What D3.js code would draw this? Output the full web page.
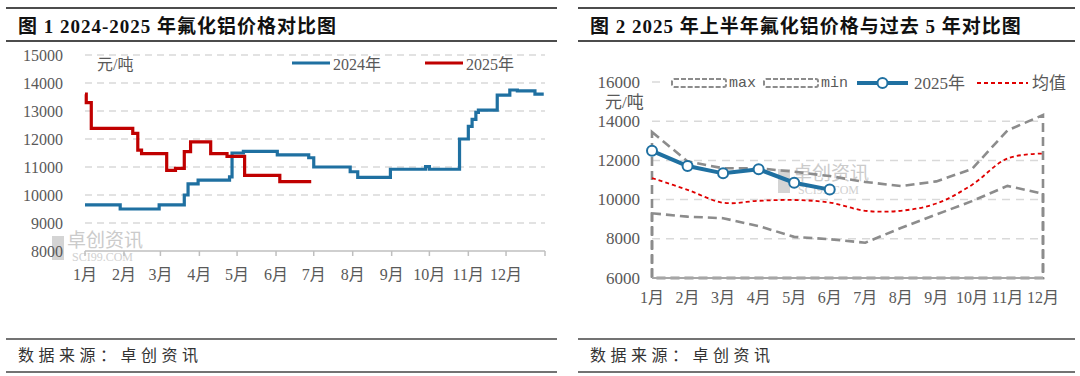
<!DOCTYPE html>
<html>
<head>
<meta charset="utf-8">
<script src="https://cdn.jsdelivr.net/npm/d3@7"></script>
<style>
  body { margin: 0; background: #fff; }
  svg text { font-family: "Liberation Serif", "Noto Sans CJK SC", serif; }
</style>
</head>
<body>
<div id="canvas"></div>
<script>
"use strict";

/* Drawing size */
let svgWidth = 1080;
let svgHeight = 376;

/* ---- Data: figure 1 (daily prices, step changes, month-day) ---- */
let months = ["1月", "2月", "3月", "4月", "5月", "6月", "7月", "8月", "9月", "10月", "11月", "12月"];
let leftTicks = [8000, 9000, 10000, 11000, 12000, 13000, 14000, 15000];

let price2024 = [
  ["01-01", 9650], ["01-29", 9500], ["02-29", 9650], ["03-20", 10000],
  ["03-23", 10400], ["03-31", 10530], ["04-25", 10650], ["04-27", 11500],
  ["05-06", 11560], ["06-02", 11430], ["06-27", 11330], ["07-01", 11000],
  ["07-30", 10830], ["08-05", 10630], ["08-31", 10920], ["09-28", 11010],
  ["10-01", 10920], ["10-25", 12000], ["11-01", 12450], ["11-04", 12700],
  ["11-07", 12950], ["11-09", 13030], ["11-24", 13570], ["12-04", 13750],
  ["12-10", 13720], ["12-24", 13600], ["12-31", 13600]
];

let price2025 = [
  ["01-01", 13600], ["01-02", 13300], ["01-06", 12380], ["02-08", 12200],
  ["02-12", 11600], ["02-15", 11480], ["03-06", 10880], ["03-13", 10950],
  ["03-20", 11550], ["03-25", 11900], ["04-10", 11480], ["04-23", 11380],
  ["05-07", 10700], ["06-04", 10480], ["06-29", 10480]
];

/* ---- Data: figure 2 (monthly) ---- */
let rightTicks = [6000, 8000, 10000, 12000, 14000, 16000];
let max5y = [13450, 11950, 11600, 11600, 11420, 11200, 10900, 10690, 10930, 11560, 13530, 14316];
let min5y = [9300, 9130, 9050, 8650, 8100, 7980, 7800, 8550, 9240, 9920, 10700, 10300];
let avg5y = [11100, 10500, 9840, 9940, 9980, 9850, 9430, 9430, 9800, 10750, 12100, 12350];
let h1of2025 = [12490, 11710, 11340, 11550, 10860, 10510];

/* Colours */
let blue = "#1f70a1";
let red = "#c00000";
let gridGrey = "#d9d9d9";
let textGrey = "#595959";

let svg = d3.select("#canvas")
  .append("svg")
  .attr("width", svgWidth)
  .attr("height", svgHeight);

/* ---- Frame rules, titles, sources ---- */
let panels = [
  { x1: 6, x2: 557, tx: 18, title: "图 1 2024-2025 年氟化铝价格对比图" },
  { x1: 578, x2: 1075, tx: 590, title: "图 2 2025 年上半年氟化铝价格与过去 5 年对比图" }
];

panels.forEach(p => {
  [8, 41].forEach(y => {
    svg.append("line")
      .attr("x1", p.x1).attr("x2", p.x2)
      .attr("y1", y).attr("y2", y)
      .attr("stroke", "#111").attr("stroke-width", 1.5);
  });
  [339, 372].forEach(y => {
    svg.append("line")
      .attr("x1", p.x1).attr("x2", p.x2)
      .attr("y1", y).attr("y2", y)
      .attr("stroke", "#444").attr("stroke-width", 1.5);
  });
  svg.append("text")
    .attr("x", p.tx).attr("y", 33)
    .attr("font-size", "19px")
    .attr("letter-spacing", "1px")
    .attr("font-weight", "bold")
    .attr("fill", "#111")
    .text(p.title);
  svg.append("text")
    .attr("x", p.tx).attr("y", 361)
    .attr("font-size", "16px")
    .attr("letter-spacing", "4.5px")
    .attr("fill", "#333")
    .style("font-family", "'Noto Sans CJK SC'")
    .text("数据来源：卓创资讯");
});

/* Watermark helper */
function watermark(x, y) {
  svg.append("rect")
    .attr("x", x).attr("y", y)
    .attr("width", 12).attr("height", 24)
    .attr("fill", "#d4d4d4");
  svg.append("text")
    .attr("x", x + 15).attr("y", y + 11)
    .attr("font-size", "19px")
    .attr("fill", "#cbcbcb")
    .style("font-family", "'Noto Sans CJK SC'")
    .text("卓创资讯");
  svg.append("text")
    .attr("x", x + 20).attr("y", y + 25)
    .attr("font-size", "12px")
    .attr("fill", "#d0d0d0")
    .text("SCI99.COM");
}

/* ================= Figure 1 ================= */
let parseDay = d3.timeParse("%Y-%m-%d");
function toDate(md) { return parseDay("2024-" + md); }

let xLeft = d3.scaleTime()
  .domain([parseDay("2024-01-01"), parseDay("2025-01-01")])
  .range([85, 545]);

let yLeft = d3.scaleLinear()
  .domain([8000, 15000])
  .range([251, 55]);

/* gridlines */
leftTicks.filter(v => v > 8000).forEach(v => {
  svg.append("line")
    .attr("x1", 85).attr("x2", 545)
    .attr("y1", yLeft(v)).attr("y2", yLeft(v))
    .attr("stroke", gridGrey)
    .attr("stroke-width", 1.5)
    .attr("stroke-dasharray", "7,5");
});

watermark(52, 236);

/* y labels */
leftTicks.forEach(v => {
  svg.append("text")
    .attr("x", 63).attr("y", yLeft(v))
    .attr("text-anchor", "end")
    .attr("dominant-baseline", "central")
    .attr("font-size", "16px")
    .attr("fill", textGrey)
    .text(String(v));
});

/* x axis */
svg.append("line")
  .attr("x1", 85).attr("x2", 545)
  .attr("y1", 251).attr("y2", 251)
  .attr("stroke", "#bfbfbf").attr("stroke-width", 1.5);

let monthStarts = d3.timeMonth.range(parseDay("2024-01-01"), parseDay("2025-01-02"));
monthStarts.forEach(d => {
  svg.append("line")
    .attr("x1", xLeft(d)).attr("x2", xLeft(d))
    .attr("y1", 251).attr("y2", 256)
    .attr("stroke", "#bfbfbf").attr("stroke-width", 1.5);
});
months.forEach((m, i) => {
  svg.append("text")
    .attr("x", xLeft(monthStarts[i])).attr("y", 280)
    .attr("text-anchor", "middle")
    .attr("font-size", "16px")
    .attr("fill", textGrey)
    .text(m);
});

/* series */
let stepLine = d3.line()
  .x(d => xLeft(toDate(d[0])))
  .y(d => yLeft(d[1]))
  .curve(d3.curveStepAfter);

svg.append("path")
  .attr("d", stepLine(price2024))
  .attr("fill", "none")
  .attr("stroke", blue)
  .attr("stroke-width", 3.2);

svg.append("path")
  .attr("d", stepLine(price2025))
  .attr("fill", "none")
  .attr("stroke", red)
  .attr("stroke-width", 3.2);

/* unit + legend */
svg.append("text")
  .attr("x", 97).attr("y", 64)
  .attr("dominant-baseline", "central")
  .attr("font-size", "16px")
  .attr("fill", textGrey)
  .text("元/吨");

let leftLegend = [
  { x: 292, color: blue, label: "2024年" },
  { x: 425, color: red, label: "2025年" }
];
leftLegend.forEach(item => {
  svg.append("line")
    .attr("x1", item.x).attr("x2", item.x + 38)
    .attr("y1", 63).attr("y2", 63)
    .attr("stroke", item.color).attr("stroke-width", 3.2);
  svg.append("text")
    .attr("x", item.x + 41).attr("y", 64)
    .attr("dominant-baseline", "central")
    .attr("font-size", "16px")
    .attr("fill", textGrey)
    .text(item.label);
});

/* ================= Figure 2 ================= */
let xRight = d3.scalePoint()
  .domain(months)
  .range([652, 1043]);

let yRight = d3.scaleLinear()
  .domain([6000, 16000])
  .range([278, 82]);

rightTicks.filter(v => v > 6000).forEach(v => {
  svg.append("line")
    .attr("x1", 652).attr("x2", 1043)
    .attr("y1", yRight(v)).attr("y2", yRight(v))
    .attr("stroke", gridGrey)
    .attr("stroke-width", 1.5)
    .attr("stroke-dasharray", "8,6");
});

watermark(778, 169);

rightTicks.forEach(v => {
  svg.append("text")
    .attr("x", 640).attr("y", yRight(v))
    .attr("text-anchor", "end")
    .attr("dominant-baseline", "central")
    .attr("font-size", "17px")
    .attr("fill", textGrey)
    .text(String(v));
});

months.forEach(m => {
  svg.append("text")
    .attr("x", xRight(m)).attr("y", 303)
    .attr("text-anchor", "middle")
    .attr("font-size", "16px")
    .attr("fill", textGrey)
    .text(m);
});

/* max / min drawn as unfilled areas with dashed outlines */
let outline = d3.area()
  .x((d, i) => xRight(months[i]))
  .y0(yRight(6000))
  .y1(d => yRight(d));

[max5y, min5y].forEach(s => {
  svg.append("path")
    .attr("d", outline(s))
    .attr("fill", "none")
    .attr("stroke", "#8c8c8c")
    .attr("stroke-width", 2.6)
    .attr("stroke-dasharray", "9,5");
});

svg.append("line")
  .attr("x1", 652).attr("x2", 1043)
  .attr("y1", 278).attr("y2", 278)
  .attr("stroke", "#a6a6a6").attr("stroke-width", 2);

let avgLine = d3.line()
  .x((d, i) => xRight(months[i]))
  .y(d => yRight(d))
  .curve(d3.curveCatmullRom.alpha(0.5));

svg.append("path")
  .attr("d", avgLine(avg5y))
  .attr("fill", "none")
  .attr("stroke", "#e00000")
  .attr("stroke-width", 1.8)
  .attr("stroke-dasharray", "4,3");

let h1Line = d3.line()
  .x((d, i) => xRight(months[i]))
  .y(d => yRight(d));

svg.append("path")
  .attr("d", h1Line(h1of2025))
  .attr("fill", "none")
  .attr("stroke", blue)
  .attr("stroke-width", 4);

svg.selectAll("circle.h1")
  .data(h1of2025)
  .enter()
  .append("circle")
  .attr("class", "h1")
  .attr("cx", (d, i) => xRight(months[i]))
  .attr("cy", d => yRight(d))
  .attr("r", 5)
  .attr("fill", "#fff")
  .attr("stroke", blue)
  .attr("stroke-width", 2);

/* unit */
svg.append("text")
  .attr("x", 605).attr("y", 102)
  .attr("dominant-baseline", "central")
  .attr("font-size", "17px")
  .attr("fill", textGrey)
  .text("元/吨");

/* legend */
svg.append("rect")
  .attr("x", 664).attr("y", 72)
  .attr("width", 410).attr("height", 22)
  .attr("fill", "#fff");

[{ x: 672, label: "max" }, { x: 764, label: "min" }].forEach(item => {
  svg.append("rect")
    .attr("x", item.x).attr("y", 79)
    .attr("width", 54).attr("height", 8)
    .attr("rx", 2)
    .attr("fill", "none")
    .attr("stroke", "#8c8c8c")
    .attr("stroke-width", 2)
    .attr("stroke-dasharray", "5,2");
  svg.append("text")
    .attr("x", item.x + 57).attr("y", 83)
    .attr("dominant-baseline", "central")
    .attr("font-size", "15px")
    .attr("fill", textGrey)
    .style("font-family", "'Liberation Mono'")
    .text(item.label);
});

svg.append("line")
  .attr("x1", 857).attr("x2", 908)
  .attr("y1", 83).attr("y2", 83)
  .attr("stroke", blue).attr("stroke-width", 4);
svg.append("circle")
  .attr("cx", 882.5).attr("cy", 83).attr("r", 5)
  .attr("fill", "#fff").attr("stroke", blue).attr("stroke-width", 2);
svg.append("text")
  .attr("x", 914).attr("y", 83)
  .attr("dominant-baseline", "central")
  .attr("font-size", "17px")
  .attr("fill", textGrey)
  .text("2025年");

svg.append("line")
  .attr("x1", 977).attr("x2", 1028)
  .attr("y1", 83).attr("y2", 83)
  .attr("stroke", "#e00000").attr("stroke-width", 1.8)
  .attr("stroke-dasharray", "4,3");
svg.append("text")
  .attr("x", 1032).attr("y", 83)
  .attr("dominant-baseline", "central")
  .attr("font-size", "17px")
  .attr("fill", textGrey)
  .text("均值");
</script>
</body>
</html>
